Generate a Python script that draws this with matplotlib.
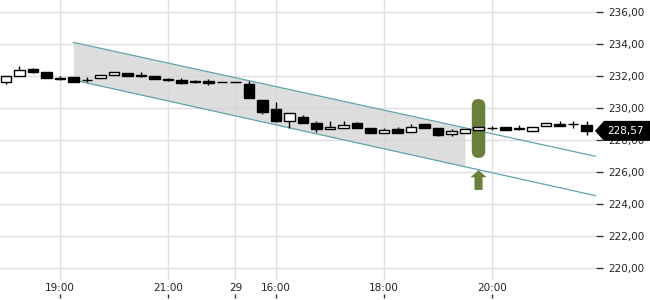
import numpy as np
import matplotlib
matplotlib.use("Agg")
import matplotlib.pyplot as plt
from matplotlib.patches import FancyBboxPatch, Polygon
from matplotlib.transforms import IdentityTransform

# ---- 15-minute candles (index = candle number) -----------------------------
OPEN = [231.63, 232.00, 232.44, 232.25, 231.90, 231.95, 231.78, 231.88, 232.06,
        232.19, 232.05, 232.00, 231.84, 231.75, 231.69, 231.69, 231.63, 231.62,
        231.50, 230.50, 229.94, 229.19, 229.44, 229.06, 228.69, 228.75, 229.06,
        228.75, 228.44, 228.69, 228.50, 229.00, 228.75, 228.38, 228.44, 228.63,
        228.75, 228.81, 228.69, 228.56, 228.88, 229.00, 229.00, 228.94]
HIGH = [232.00, 232.63, 232.50, 232.25, 232.00, 231.95, 231.94, 232.06, 232.25,
        232.19, 232.25, 232.00, 231.88, 231.88, 231.72, 231.81, 231.63, 231.63,
        231.69, 230.50, 230.38, 229.69, 229.56, 229.19, 229.19, 229.19, 229.13,
        228.75, 228.75, 228.81, 229.00, 229.00, 228.75, 228.69, 228.69, 228.81,
        228.88, 228.81, 228.94, 228.81, 229.06, 229.19, 229.19, 229.19]
LOW = [231.47, 232.00, 232.20, 231.88, 231.75, 231.60, 231.60, 231.88, 232.06,
       232.00, 231.94, 231.80, 231.70, 231.50, 231.58, 231.44, 231.62, 231.60,
       230.63, 229.63, 229.13, 228.75, 229.06, 228.50, 228.69, 228.75, 228.75,
       228.44, 228.44, 228.44, 228.50, 228.75, 228.25, 228.25, 228.44, 228.63,
       228.63, 228.63, 228.63, 228.56, 228.88, 228.88, 228.75, 228.31]
CLOSE = [232.00, 232.38, 232.25, 231.88, 231.84, 231.60, 231.75, 232.06, 232.25,
         232.00, 232.03, 231.80, 231.76, 231.56, 231.62, 231.56, 231.62, 231.61,
         230.63, 229.75, 229.19, 229.69, 229.06, 228.69, 228.81, 228.94, 228.75,
         228.44, 228.63, 228.44, 228.81, 228.75, 228.31, 228.56, 228.69, 228.81,
         228.75, 228.63, 228.69, 228.81, 229.06, 228.88, 228.97, 228.57]

XTICK_POS = [4, 12, 17, 20, 28, 36]
XTICK_LABELS = ["19:00", "21:00", "29", "16:00", "18:00", "20:00"]
YTICKS = [220, 222, 224, 226, 228, 230, 232, 234, 236]

# trend channel (candle index, price)
CHANNEL_X = [5, 44]
CHANNEL_UPPER = [234.10, 226.92]
CHANNEL_LOWER = [231.75, 224.46]
CHANNEL_FILL_END = 34

# breakout signal
SIGNAL_IDX = 35
SIGNAL_BOX = (226.88, 230.56)     # bottom, top of the marker bar
SIGNAL_ARROW = (224.88, 226.12)   # bottom, tip of the arrow

GREEN = "#6a803a"
TEAL = "#62a3ad"
GRID = "#e0e0e0"

plt.rcParams.update({"font.family": "DejaVu Sans", "font.size": 7.5})

fig = plt.figure(figsize=(6.5, 3.0), dpi=100)
ax = fig.add_axes([0, 20 / 300, 596 / 650, 280 / 300])

x = np.arange(len(OPEN))
o, h, l, c = map(np.asarray, (OPEN, HIGH, LOW, CLOSE))

ax.set_xlim(-0.44, 43.7)
ax.set_ylim(219.25, 236.75)

# grid
ax.set_yticks(YTICKS)
ax.set_yticklabels([f"{v:.2f}".replace(".", ",") for v in YTICKS])
ax.set_xticks(XTICK_POS)
ax.set_xticklabels(XTICK_LABELS)
ax.grid(True, color=GRID, lw=1, zorder=0)
ax.set_axisbelow(True)
for s in ax.spines.values():
    s.set_visible(False)

ax.yaxis.tick_right()
ax.tick_params(axis="y", length=5, width=1, color="#333333", pad=4,
               labelcolor="#222222")
ax.tick_params(axis="x", length=0, pad=2.5, labelcolor="#222222")

# small tick marks below the time labels
sec = ax.secondary_xaxis(-0.05)
sec.set_xticks(XTICK_POS)
sec.set_xticklabels([])
sec.tick_params(length=3, width=1, color="#333333")
sec.spines["bottom"].set_visible(False)

# channel
cx = np.array(CHANNEL_X, dtype=float)
up = np.array(CHANNEL_UPPER)
lo = np.array(CHANNEL_LOWER)
fx = np.array([CHANNEL_X[0], CHANNEL_FILL_END], dtype=float)
ax.fill_between(fx, np.interp(fx, cx, lo), np.interp(fx, cx, up),
                color="#d2d2d2", alpha=0.75, lw=0, zorder=1)
ax.plot(cx, up, color=TEAL, lw=0.9, zorder=2)
ax.plot(cx, lo, color=TEAL, lw=0.9, zorder=2)

# signal marker
bw = 1.0
ax.add_patch(FancyBboxPatch((SIGNAL_IDX - bw / 2, SIGNAL_BOX[0]), bw,
                            SIGNAL_BOX[1] - SIGNAL_BOX[0],
                            boxstyle="round,pad=0,rounding_size=0.5",
                            mutation_aspect=0.84, fc=GREEN, ec="none",
                            zorder=3))
ab, at = SIGNAL_ARROW
hw, sw = 0.6, 0.3
neck = at - 0.45
ax.add_patch(Polygon([(SIGNAL_IDX, at), (SIGNAL_IDX + hw, neck),
                      (SIGNAL_IDX + sw, neck), (SIGNAL_IDX + sw, ab),
                      (SIGNAL_IDX - sw, ab), (SIGNAL_IDX - sw, neck),
                      (SIGNAL_IDX - hw, neck)],
                     closed=True, fc=GREEN, ec="none", zorder=3))

# candles
ax.vlines(x, l, h, color="black", lw=1, zorder=4)
body_lo = np.minimum(o, c)
body_h = np.maximum(np.abs(c - o), 0.03)
face = ["white" if cc >= oo else "black" for oo, cc in zip(o, c)]
ax.bar(x, body_h, bottom=body_lo, width=0.8, color=face, edgecolor="black",
       linewidth=1, zorder=5)

# last price tag
fig.canvas.draw()
yc = ax.transData.transform((0, CLOSE[-1]))[1]
tag = Polygon([(595, yc), (604, yc + 10), (650, yc + 10), (650, yc - 10),
               (604, yc - 10)], closed=True, fc="black", ec="none",
              transform=IdentityTransform(), zorder=10)
fig.add_artist(tag)
fig.text(607 / 650, yc / 300, f"{CLOSE[-1]:.2f}".replace(".", ","),
         color="white", fontsize=7.5, va="center", ha="left", zorder=11)

fig.savefig("out.png", dpi=100)
